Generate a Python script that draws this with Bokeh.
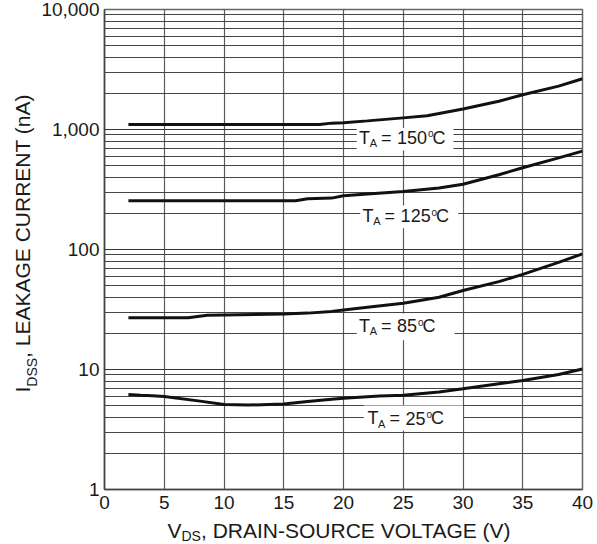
import math
from bokeh.plotting import figure
from bokeh.layouts import row, column
from bokeh.models import Range1d, FixedTicker, NumeralTickFormatter, Label
from bokeh.embed import file_html
from bokeh.resources import INLINE

# ---------------- data ----------------
v_ticks = [0, 5, 10, 15, 20, 25, 30, 35, 40]
i_major = [1, 10, 100, 1000, 10000]
i_minor = [m * 10 ** d for d in range(4) for m in range(2, 10)]

v_150 = [2, 5, 10, 15, 18, 19, 20, 22, 25, 27, 30, 33, 35, 38, 40]
i_150 = [1100, 1100, 1100, 1100, 1100, 1130, 1140, 1180, 1250, 1300, 1480, 1720, 1950, 2300, 2650]

v_125 = [2, 5, 10, 16, 17, 19, 20, 22, 25, 28, 30, 33, 35, 38, 40]
i_125 = [255, 255, 255, 255, 265, 268, 280, 290, 305, 325, 350, 420, 480, 580, 660]

v_85 = [2, 7, 8.6, 15, 17, 19, 20, 22, 25, 28, 30, 33, 35, 38, 40]
i_85 = [27, 27, 28.3, 29, 29.5, 30.5, 31.3, 33, 35.7, 40, 45.5, 54, 62, 78, 92]

v_25 = [2, 3, 4, 5, 8, 10, 12, 15, 17, 19, 20, 23, 25, 28, 30, 33, 35, 38, 40]
i_25 = [6.2, 6.1, 6.05, 5.95, 5.45, 5.1, 5.05, 5.15, 5.4, 5.65, 5.75, 6.0, 6.1, 6.5, 6.9, 7.6, 8.1, 9.1, 10.1]

temps = ["150", "125", "85", "25"]

# label placement (data coords of the text baseline start)
lab_v = [21.3, 21.6, 21.3, 22.0]
lab_i = [760, 169, 20.5, 3.48]
box_l = [21.1, 21.4, 21.1, 21.7]
box_r = [29.2, 29.6, 29.3, 30.0]
box_b = [668, 150, 17.5, 3.1]
box_t = [1030, 233, 29.3, 5.0]

FONT = "Liberation Sans"
INK = "#1a1a1a"

p = figure(width=559, height=515, output_backend="svg", toolbar_location=None,
           y_axis_type="log", x_range=Range1d(0, 40), y_range=Range1d(1, 10000),
           min_border_left=64, min_border_right=15, min_border_top=9, min_border_bottom=26,
           background_fill_color="white", border_fill_color="white")

p.outline_line_color = "#666666"
p.outline_line_width = 1.5

p.xaxis.ticker = FixedTicker(ticks=v_ticks, minor_ticks=[])
p.yaxis.ticker = FixedTicker(ticks=i_major, minor_ticks=i_minor)
p.yaxis.formatter = NumeralTickFormatter(format="0,0")

for ax in (p.xaxis[0], p.yaxis[0]):
    ax.major_tick_out = 0
    ax.major_tick_in = 0
    ax.minor_tick_out = 0
    ax.minor_tick_in = 0
    ax.axis_line_color = "#444444"
    ax.axis_line_width = 1.5
    ax.major_label_text_font = FONT
    ax.major_label_text_color = INK
p.xaxis.major_label_text_font_size = "19px"
p.yaxis.major_label_text_font_size = "19px"
p.xaxis.major_label_standoff = 6
p.yaxis.major_label_standoff = 5

p.xgrid.grid_line_color = "#5a5a5a"
p.xgrid.grid_line_width = 1.2
p.ygrid.grid_line_color = "#333333"
p.ygrid.grid_line_width = 1.2
p.ygrid.minor_grid_line_color = "#444444"
p.ygrid.minor_grid_line_width = 1.1

# white boxes behind the temperature labels (hide grid lines)
p.quad(left=box_l, right=box_r, bottom=box_b, top=box_t,
       fill_color="white", line_color=None)

for vs, cur in ((v_150, i_150), (v_125, i_125), (v_85, i_85), (v_25, i_25)):
    p.line(vs, cur, line_color="#111111", line_width=3)


def piece(fig, text, x, y, size, x_off=0, y_off=0, units="data", angle=0):
    fig.add_layout(Label(x=x, y=y, x_units=units, y_units=units, text=text,
                         x_offset=x_off, y_offset=y_off, angle=angle,
                         text_font=FONT, text_font_size=size, text_color=INK,
                         text_align="left", text_baseline="middle"))


for x, y, t in zip(lab_v, lab_i, temps):
    n = len(t)
    piece(p, "T", x, y, "18px", y_off=6.3)
    piece(p, "A", x, y, "11px", x_off=10.7, y_off=0.9)
    piece(p, "=", x, y, "18px", x_off=22, y_off=6.3)
    piece(p, t, x, y, "18px", x_off=38, y_off=6.3)
    piece(p, "o", x, y, "10px", x_off=39 + 10 * n, y_off=10)
    piece(p, "C", x, y, "18px", x_off=43.5 + 10 * n, y_off=6.3)


def blank(w, h):
    f = figure(width=w, height=h, output_backend="svg", toolbar_location=None,
               x_axis_type=None, y_axis_type=None, min_border=0,
               x_range=Range1d(0, w), y_range=Range1d(0, h),
               background_fill_color="white", border_fill_color="white")
    f.outline_line_color = None
    f.grid.visible = False
    return f


# y axis title (rotated), in its own strip at the left (frame aligned with the chart)
ty = blank(38, 515)
piece(ty, "I", 21.7, 97, "21px", units="screen", angle=math.pi / 2)
piece(ty, "DSS", 31.0, 102.8, "14px", units="screen", angle=math.pi / 2)
piece(ty, ", LEAKAGE CURRENT (nA)", 21.7, 131.6, "21px", units="screen", angle=math.pi / 2)

# x axis title, in its own strip at the bottom
tx = blank(597, 29)
piece(tx, "V", 167, 14, "21px", units="screen")
piece(tx, "DS", 181, 8.2, "14px", units="screen")
piece(tx, ", DRAIN-SOURCE VOLTAGE (V)", 200.5, 14, "21px", units="screen")

layout = column(row(ty, p, spacing=0), tx, spacing=0)

open("out.html", "w").write(file_html(layout, INLINE))
